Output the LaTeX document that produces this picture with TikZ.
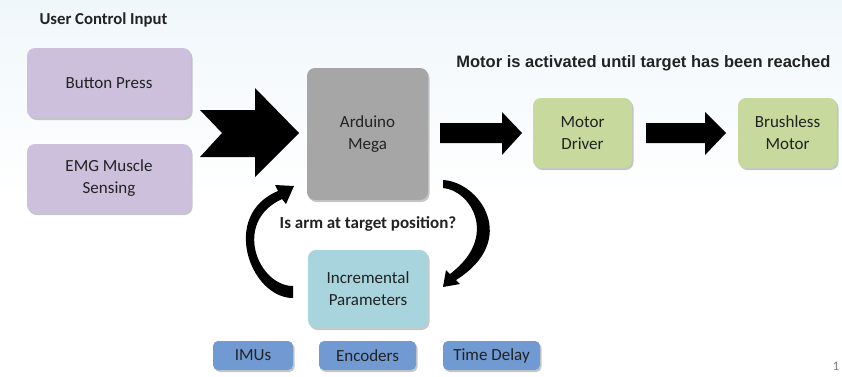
\documentclass[tikz,border=0pt]{standalone}
\usepackage{fontspec}
\setmainfont{Carlito}
\newfontfamily\arialf{Liberation Sans}
\usetikzlibrary{shadows,calc}
\definecolor{lav}{HTML}{CCC0DC}
\definecolor{ardgray}{HTML}{A6A6A6}
\definecolor{lgreen}{HTML}{C7D99C}
\definecolor{lblue}{HTML}{A8D4DD}
\definecolor{mblue}{HTML}{7199D2}
\definecolor{txt}{HTML}{222222}
\definecolor{bgtop}{HTML}{F0F7FB}
\begin{document}
\begin{tikzpicture}[x=1pt,y=-1pt,
  box/.style={rounded corners=8pt, draw=none, align=center, inner sep=0pt,
    font=\fontsize{17}{22}\selectfont, text=txt,
    drop shadow={shadow xshift=1.5pt, shadow yshift=-2pt, opacity=0.22, fill=black}},
  blockarrow/.style={fill=black, draw=none}]
\useasboundingbox (0,0) rectangle (842,376);
\fill[white] (0,0) rectangle (842,376);
\shade[top color=bgtop, bottom color=white] (0,0) rectangle (842,200);

% titles
\node[anchor=west, font=\bfseries\fontsize{16.7}{20}\selectfont, text=txt] (title) at (36,20) {User Control Input};
\node[anchor=east, font=\arialf\bfseries\fontsize{16.5}{20}\selectfont, text=txt] (motortitle) at (834,63) {Motor is activated until target has been reached};

% boxes
\node[box, fill=lav, minimum width=164pt, minimum height=70pt] (btn) at (109,83) {Button Press};
\node[box, fill=lav, minimum width=164pt, minimum height=69pt] (emg) at (109,178.5) {EMG Muscle\\Sensing};
\node[box, fill=ardgray, minimum width=121pt, minimum height=132pt] (ard) at (367.5,134) {Arduino\\Mega};
\node[box, fill=lgreen, minimum width=99pt, minimum height=70pt] (drv) at (582.5,133) {Motor\\Driver};
\node[box, fill=lgreen, minimum width=99pt, minimum height=70pt] (bl) at (787.5,133) {Brushless\\Motor};
\node[box, fill=lblue, minimum width=120pt, minimum height=78pt] (inc) at (368,289) {Incremental\\Parameters};
\node[box, fill=mblue, rounded corners=5pt, minimum width=80pt, minimum height=29pt] (imu) at (253,355.5) {IMUs};
\node[box, fill=mblue, rounded corners=5pt, minimum width=97pt, minimum height=29pt] (enc) at (367.5,355.5) {Encoders};
\node[box, fill=mblue, rounded corners=5pt, minimum width=97pt, minimum height=29pt] (td) at (491.5,355.5) {Time Delay};

\node[font=\bfseries\fontsize{17}{20}\selectfont, text=txt] (q) at (368,224) {Is arm at target position?};

% block arrows
\fill[blockarrow] (200,110) -- (255,110) -- (255,88) -- (299,133) -- (255,177) -- (255,157) -- (200,157) -- (222,133) -- cycle;
\fill[blockarrow] (440,123) -- (502,123) -- (502,112) -- (522,133) -- (502,155) -- (502,143) -- (440,143) -- cycle;
\fill[blockarrow] (646,123) -- (705,123) -- (705,112) -- (726,133) -- (705,155) -- (705,143) -- (646,143) -- cycle;

% curved feedback arrows
\fill[blockarrow] (293,298) .. controls (250,298) and (220,215) .. (278,191)
  -- (275,185) -- (294,186) -- (286,204) -- (282,199)
  .. controls (232,222) and (258,286) .. (293,286) -- cycle;
\fill[blockarrow] (443,180) .. controls (480,182) and (520,240) .. (456,280)
  -- (460,284) -- (443,287) -- (446,270) -- (450,274)
  .. controls (500,236) and (470,190) .. (443,188) -- cycle;

% slide number
\node[font=\fontsize{13}{14}\selectfont, text=gray] (num) at (836,366) {1};
\end{tikzpicture}
\end{document}
